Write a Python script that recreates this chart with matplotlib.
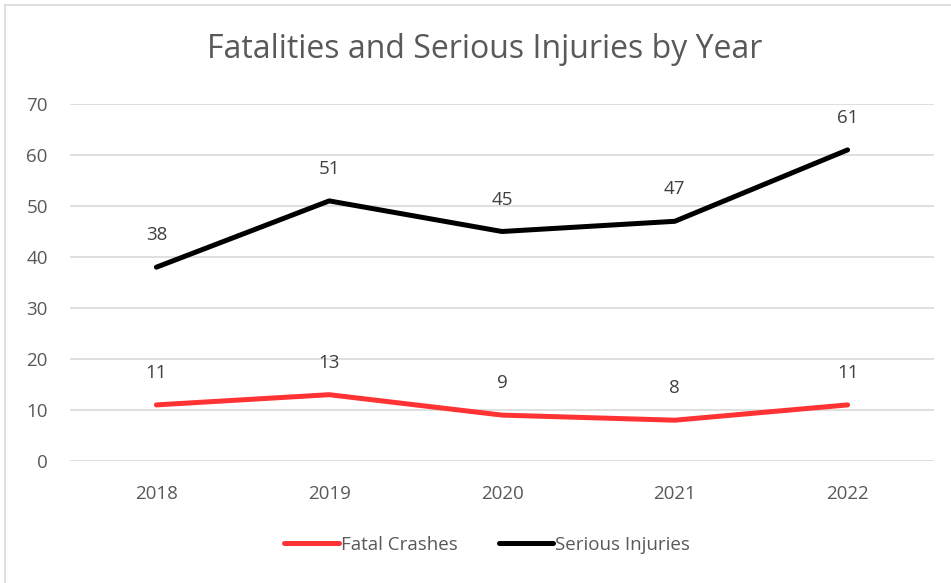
import matplotlib
matplotlib.use('Agg')
import matplotlib.pyplot as plt
from matplotlib.lines import Line2D

years = ['2018', '2019', '2020', '2021', '2022']
fatal = [11, 13, 9, 8, 11]
serious = [38, 51, 45, 47, 61]

plt.rcParams['font.family'] = ['Open Sans', 'DejaVu Sans']

fig = plt.figure(figsize=(9.51, 5.83), dpi=100)
# plot area in pixel terms: x 70..934, y 104..461 (of 583)
ax = fig.add_axes([70/951, 1-461/583, 864/951, 357/583])

x = range(len(years))
ax.plot(x, fatal, color='#FF3333', lw=3.6, solid_capstyle='round', label='Fatal Crashes')
ax.plot(x, serious, color='black', lw=3.6, solid_capstyle='round', label='Serious Injuries')

for i in x:
    ax.annotate(str(fatal[i]), (i, fatal[i]), xytext=(0, 23), textcoords='offset points',
                ha='center', va='center', fontsize=13.5, color='#404040')
    ax.annotate(str(serious[i]), (i, serious[i]), xytext=(0, 23), textcoords='offset points',
                ha='center', va='center', fontsize=13.5, color='#404040')

ax.set_xlim(-0.5, 4.5)
ax.set_ylim(0, 70)
ax.set_yticks(range(0, 71, 10))
ax.set_xticks(list(x))
ax.set_xticklabels(years)
ax.grid(axis='y', color='#d9d9d9', lw=1.2)
ax.set_axisbelow(True)
for s in ax.spines.values():
    s.set_visible(False)
ax.tick_params(length=0, labelsize=13.5, labelcolor='#595959')
ax.tick_params(axis='x', pad=17)
ax.tick_params(axis='y', pad=16)

fig.text(485/951, 1-50/583, 'Fatalities and Serious Injuries by Year', ha='center', va='center',
         fontsize=23, color='#595959')

handles = [Line2D([], [], color='#FF3333', lw=3.6, solid_capstyle='round'),
           Line2D([], [], color='black', lw=3.6, solid_capstyle='round')]
fig.legend(handles, ['Fatal Crashes', 'Serious Injuries'], loc='center',
           bbox_to_anchor=(487/951, 1-545/583), ncol=2, frameon=False, fontsize=13.5,
           labelcolor='#595959', handlelength=2.9, handletextpad=0.1, columnspacing=2.2)

# chart border (top and left visible)
fig.add_artist(Line2D([5/951, 5/951], [0, 1-5/583], color='#d9d9d9', lw=1.2, transform=fig.transFigure))
fig.add_artist(Line2D([5/951, 1], [1-5/583, 1-5/583], color='#d9d9d9', lw=1.2, transform=fig.transFigure))

fig.savefig('out.png', dpi=100)
